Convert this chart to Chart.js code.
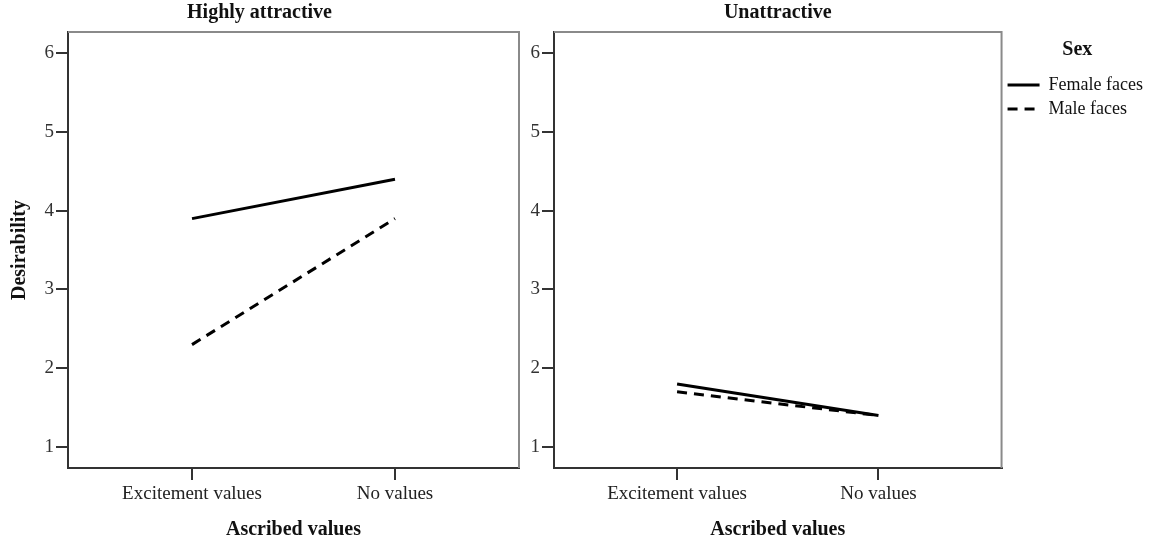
<!DOCTYPE html>
<html>
<head>
<meta charset="utf-8">
<script src="https://cdn.jsdelivr.net/npm/chart.js@4.4.0/dist/chart.umd.min.js"></script>
<style>
  html, body { margin: 0; padding: 0; background: #fff; }
  #wrap { position: relative; width: 1153px; height: 542px; }
  #left { position: absolute; left: 0; top: 0; }
  #right { position: absolute; left: 524px; top: 0; }
</style>
</head>
<body>
<div id="wrap">
  <canvas id="left" width="524" height="542"></canvas>
  <canvas id="right" width="629" height="542"></canvas>
</div>
<script>
// data
const groups = ['Excitement values', 'No values'];
const yTicks = [1, 2, 3, 4, 5, 6];
const femaleHigh = [3.9, 4.4];
const maleHigh = [2.3, 3.9];
const femaleUn = [1.8, 1.4];
const maleUn = [1.7, 1.4];

const serif = "'Liberation Serif', 'Times New Roman', serif";
Chart.defaults.font.family = serif;
Chart.defaults.color = '#222';

// top + right edge of the plot frame (left/bottom come from the axes)
const frame = {
    id: 'frame',
    afterDraw(chart) {
        const a = chart.chartArea, c = chart.ctx;
        c.save();
        c.strokeStyle = '#8a8a8a';
        c.lineWidth = 2;
        c.beginPath();
        c.moveTo(a.left, a.top);
        c.lineTo(a.right, a.top);
        c.lineTo(a.right, a.bottom);
        c.stroke();
        c.restore();
    }
};

function pts(vals) {
    return vals.map((v, i) => ({ x: i, y: v }));
}

function datasets(f, m) {
    return [
        {
            label: 'Female faces',
            data: pts(f),
            borderColor: '#000',
            backgroundColor: '#000',
            borderWidth: 3,
            pointRadius: 0,
            fill: false
        },
        {
            label: 'Male faces',
            data: pts(m),
            borderColor: '#000',
            backgroundColor: '#000',
            borderWidth: 3,
            borderDash: [10, 7],
            pointRadius: 0,
            fill: false
        }
    ];
}

function scales(yw, ytitle) {
    return {
        x: {
            type: 'linear',
            min: -0.611,
            max: 1.611,
            afterBuildTicks: (ax) => { ax.ticks = groups.map((g, i) => ({ value: i })); },
            afterFit: (ax) => { ax.height = 74; },
            ticks: {
                callback: (v) => groups[v],
                font: { size: 19 },
                color: '#222',
                padding: 3,
                maxRotation: 0
            },
            grid: { drawOnChartArea: false, drawTicks: true, tickLength: 12, color: '#333', lineWidth: 2 },
            border: { display: true, color: '#333', width: 2 },
            title: {
                display: true,
                text: 'Ascribed values',
                font: { size: 20, weight: 'bold' },
                color: '#111',
                padding: { top: 0, bottom: 0 }
            }
        },
        y: {
            min: 0.733,
            max: 6.27,
            afterBuildTicks: (ax) => { ax.ticks = yTicks.map(v => ({ value: v })); },
            afterFit: (ax) => { ax.width = yw; },
            ticks: {
                font: { size: 19 },
                color: '#333',
                padding: 2
            },
            grid: { drawOnChartArea: false, drawTicks: true, tickLength: 12, color: '#333', lineWidth: 2 },
            border: { display: true, color: '#333', width: 2 },
            title: {
                display: !!ytitle,
                text: ytitle || '',
                font: { size: 20, weight: 'bold' },
                color: '#111',
                padding: { top: 8, bottom: 0 }
            }
        }
    };
}

new Chart(document.getElementById('left').getContext('2d'), {
    type: 'line',
    data: { datasets: datasets(femaleHigh, maleHigh) },
    options: {
        responsive: false,
        animation: false,
        layout: { padding: { left: 0, right: 5, top: 0, bottom: 0 } },
        scales: scales(68, 'Desirability'),
        plugins: {
            legend: { display: false },
            tooltip: { enabled: false },
            title: {
                display: true,
                text: 'Highly attractive',
                font: { size: 20, weight: 'bold' },
                color: '#111',
                padding: { top: 1, bottom: 7 }
            }
        }
    },
    plugins: [frame]
});

new Chart(document.getElementById('right').getContext('2d'), {
    type: 'line',
    data: { datasets: datasets(femaleUn, maleUn) },
    options: {
        responsive: false,
        animation: false,
        layout: { padding: { left: 0, right: 0, top: 0, bottom: 0 } },
        scales: scales(30, null),
        plugins: {
            tooltip: { enabled: false },
            title: {
                display: true,
                fullSize: false,
                text: 'Unattractive',
                font: { size: 20, weight: 'bold' },
                color: '#111',
                padding: { top: 1, bottom: 7 }
            },
            legend: {
                display: true,
                position: 'right',
                align: 'start',
                title: {
                    display: true,
                    text: 'Sex',
                    font: { size: 20, weight: 'bold' },
                    color: '#111',
                    padding: { top: 40, bottom: 6 }
                },
                labels: {
                    usePointStyle: true,
                    pointStyle: 'line',
                    pointStyleWidth: 32,
                    font: { size: 18 },
                    color: '#111',
                    padding: 6,
                    // point style drops the dash, so take it from the dataset
                    generateLabels: (chart) => {
                        const items = Chart.defaults.plugins.legend.labels.generateLabels(chart);
                        items.forEach(it => {
                            const ds = chart.data.datasets[it.datasetIndex];
                            it.lineDash = ds.borderDash || [];
                            it.lineWidth = 3;
                            it.strokeStyle = '#000';
                        });
                        return items;
                    }
                }
            }
        }
    },
    plugins: [frame]
});
</script>
</body>
</html>
